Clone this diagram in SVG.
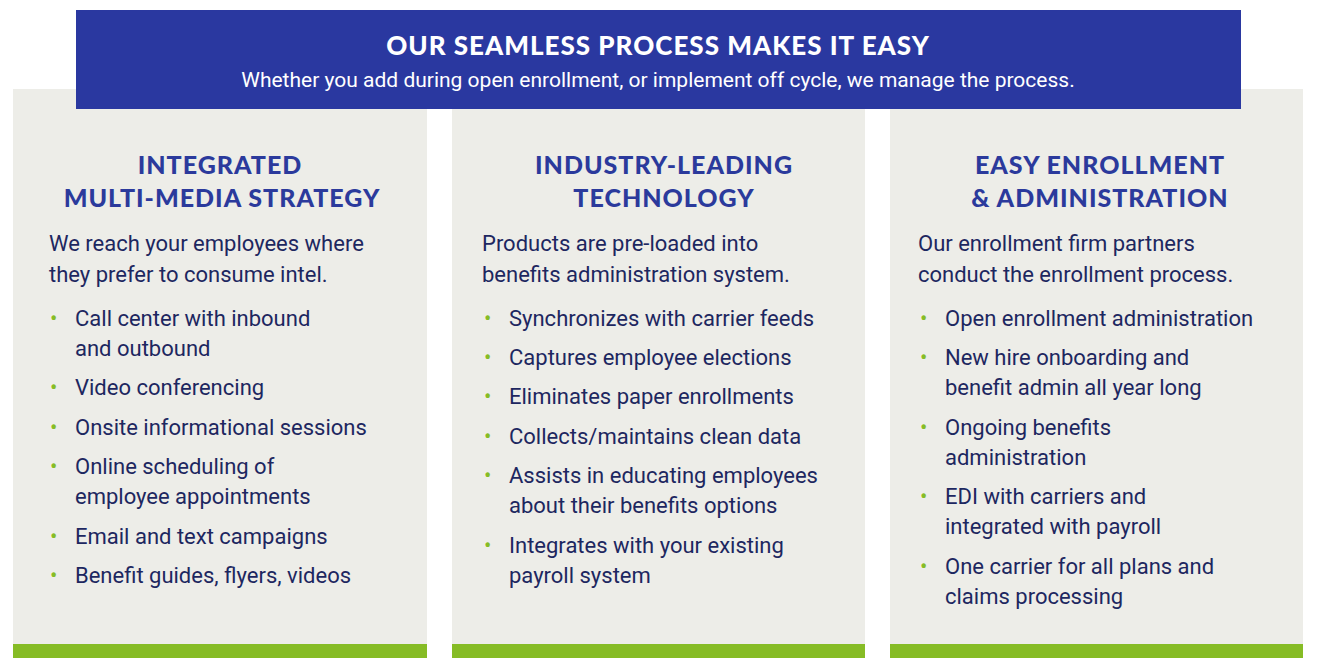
<svg xmlns="http://www.w3.org/2000/svg" width="1317" height="666" viewBox="0 0 1317 666">
<style>
.p{fill:#edede8}.g{fill:#86bc25}
.h{font-family:Lato,"Liberation Sans",sans-serif;font-weight:900;font-size:25px;fill:#2b3a9c;text-anchor:middle;letter-spacing:1px}
.t{font-family:Roboto,"Liberation Sans",sans-serif;font-size:22px;fill:#1d2760;dominant-baseline:central}
.b{fill:#86bc25;font-family:Roboto,"Liberation Sans",sans-serif;font-size:22px;dominant-baseline:central}
</style>
<rect width="1317" height="666" fill="#fff"/>
<g id="panel1"><rect class="p" x="13" y="89" width="414" height="569"/><rect class="g" x="13" y="644" width="414" height="14"/>
<text class="h" x="220" y="174">INTEGRATED</text><text class="h" x="222" y="207">MULTI-MEDIA STRATEGY</text>
<text class="t" x="49" y="243">We reach your employees where</text><text class="t" x="49" y="274">they prefer to consume intel.</text>
<g class="b"><text x="50" y="318">•</text><text x="50" y="387">•</text><text x="50" y="427">•</text><text x="50" y="466">•</text><text x="50" y="536">•</text><text x="50" y="575">•</text></g>
<text class="t" x="75" y="318">Call center with inbound</text><text class="t" x="75" y="348">and outbound</text>
<text class="t" x="75" y="387">Video conferencing</text><text class="t" x="75" y="427">Onsite informational sessions</text>
<text class="t" x="75" y="466">Online scheduling of</text><text class="t" x="75" y="496">employee appointments</text>
<text class="t" x="75" y="536">Email and text campaigns</text><text class="t" x="75" y="575">Benefit guides, flyers, videos</text></g>
<g id="panel2"><rect class="p" x="452" y="89" width="413" height="569"/><rect class="g" x="452" y="644" width="413" height="14"/>
<text class="h" x="664" y="174">INDUSTRY-LEADING</text><text class="h" x="664" y="207">TECHNOLOGY</text>
<text class="t" x="482" y="243">Products are pre-loaded into</text><text class="t" x="482" y="274">benefits administration system.</text>
<g class="b"><text x="484" y="318">•</text><text x="484" y="357">•</text><text x="484" y="396">•</text><text x="484" y="436">•</text><text x="484" y="475">•</text><text x="484" y="545">•</text></g>
<text class="t" x="509" y="318">Synchronizes with carrier feeds</text><text class="t" x="509" y="357">Captures employee elections</text>
<text class="t" x="509" y="396">Eliminates paper enrollments</text><text class="t" x="509" y="436">Collects/maintains clean data</text>
<text class="t" x="509" y="475">Assists in educating employees</text><text class="t" x="509" y="505">about their benefits options</text>
<text class="t" x="509" y="545">Integrates with your existing</text><text class="t" x="509" y="575">payroll system</text></g>
<g id="panel3"><rect class="p" x="890" y="89" width="413" height="569"/><rect class="g" x="890" y="644" width="413" height="14"/>
<text class="h" x="1100" y="174">EASY ENROLLMENT</text><text class="h" x="1100" y="207">&amp; ADMINISTRATION</text>
<text class="t" x="918" y="243">Our enrollment firm partners</text><text class="t" x="918" y="274">conduct the enrollment process.</text>
<g class="b"><text x="920" y="318">•</text><text x="920" y="357">•</text><text x="920" y="427">•</text><text x="920" y="496">•</text><text x="920" y="566">•</text></g>
<text class="t" x="945" y="318">Open enrollment administration</text><text class="t" x="945" y="357">New hire onboarding and</text>
<text class="t" x="945" y="387">benefit admin all year long</text><text class="t" x="945" y="427">Ongoing benefits</text>
<text class="t" x="945" y="457">administration</text><text class="t" x="945" y="496">EDI with carriers and</text>
<text class="t" x="945" y="526">integrated with payroll</text><text class="t" x="945" y="566">One carrier for all plans and</text>
<text class="t" x="945" y="596">claims processing</text></g>
<g id="header"><rect x="76" y="10" width="1165" height="99" fill="#2a38a0"/>
<text x="658" y="55" font-family="Lato,'Liberation Sans',sans-serif" font-weight="900" font-size="26" fill="#fff" text-anchor="middle" letter-spacing="1">OUR SEAMLESS PROCESS MAKES IT EASY</text>
<text x="658" y="87" font-family="Roboto,'Liberation Sans',sans-serif" font-size="21" fill="#fff" text-anchor="middle">Whether you add during open enrollment, or implement off cycle, we manage the process.</text></g>
<g id="connectors"/>
</svg>
